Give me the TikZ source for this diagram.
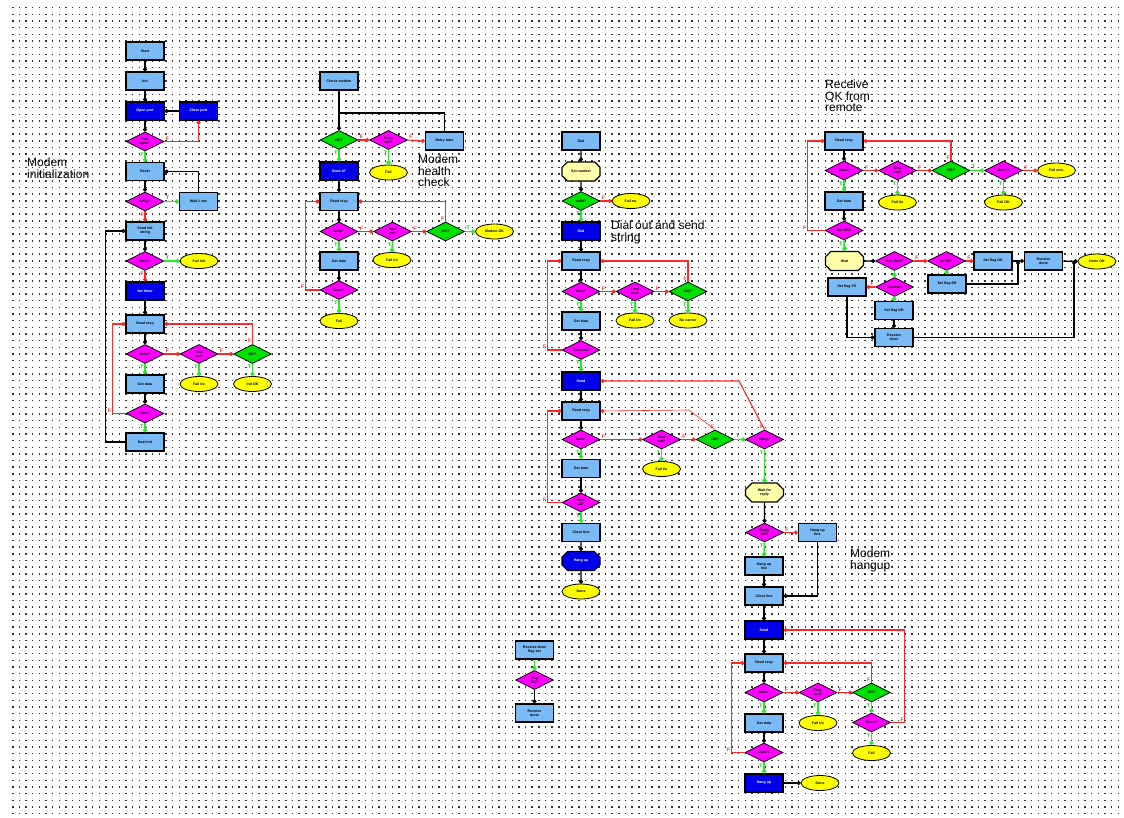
\documentclass[tikz,border=0pt]{standalone}
\usepackage{fontspec}
\setmainfont{Liberation Sans}
\usetikzlibrary{arrows.meta,shapes.geometric,shapes.misc}
\definecolor{lb}{RGB}{122,186,245}
\definecolor{db}{RGB}{0,0,235}
\definecolor{mg}{RGB}{255,0,255}
\definecolor{gr}{RGB}{0,225,0}
\definecolor{gn}{RGB}{40,235,40}
\definecolor{yl}{RGB}{255,255,0}
\definecolor{ly}{RGB}{255,255,170}
\definecolor{rd}{RGB}{255,40,40}
\newcommand\ndtxt{\fontsize{3.6}{4}\selectfont\bfseries}
\newcommand\lbtxt{\fontsize{5}{5}\selectfont\bfseries}
\begin{document}
\begin{tikzpicture}[x=1pt,y=-1pt,
  every node/.style={inner sep=0.5pt, font=\ndtxt, align=center},
  box/.style={rectangle, draw=black, line width=1.2pt, fill=lb, minimum width=38pt, minimum height=18pt},
  dbox/.style={box, fill=db, text=white},
  ybox/.style={chamfered rectangle, chamfered rectangle xsep=3pt, draw=black, line width=1.2pt, fill=ly, minimum width=38pt, minimum height=19pt},
  dybox/.style={ybox, fill=db, text=white},
  dm/.style={diamond, draw=black, line width=0.8pt, fill=mg, minimum width=38pt, minimum height=19pt, inner sep=-1pt, aspect=2},
  dg/.style={dm, fill=gr},
  ell/.style={ellipse, draw=black, line width=0.8pt, fill=yl, minimum width=38pt, minimum height=15pt, inner sep=0pt},
  note/.style={font=\fontsize{12}{11.5}\selectfont, align=left, anchor=north west, inner sep=0pt},
  bl/.style={draw=black, line width=1.1pt, -{Circle[length=4pt]}},
  blk/.style={draw=black, line width=1.1pt},
  rl/.style={draw=rd, line width=1.1pt, -{Circle[length=4pt]}},
  gl/.style={draw=gn, line width=1.6pt, -{Circle[length=4.2pt]}},
  tl/.style={font=\lbtxt, text=gr!80!black, inner sep=0.8pt, pos=0},
  fl/.style={font=\lbtxt, text=rd, inner sep=0.8pt, pos=0},
  dotrow/.style={line width=1.5pt, black!80, dash pattern=on 1.5pt off 5.16pt}]

% page and dotted grid
\fill[white] (0,0) rectangle (1124,817);
\useasboundingbox (0,0) rectangle (1124,817);
\foreach \k in {0,...,121} {\draw[dotrow] (12,{7.7+6.66*\k}) -- (1124,{7.7+6.66*\k});}

% ---------------- Modem initialization ----------------
\node[note] (n1) at (27,158) {Modem\\initialization};
\node[box]  (a1) at (145,51) {Start};
\node[box]  (a2) at (145,81) {Init};
\node[dbox] (a3) at (145,111) {Open port};
\node[dbox] (a3r) at (198.5,111) {Close port};
\node[dm]   (a4) at (145,141.5) {Port\\open?};
\node[box]  (a5) at (145,171.5) {Reset};
\node[dm]   (a6) at (145,201.5) {Busy?};
\node[box]  (a6r) at (198.5,201.5) {Wait 1 sec};
\node[box]  (a7) at (145,231) {Send init\\string};
\node[dm]   (a8) at (145,261) {Error?};
\node[ell]  (a8r) at (199,261) {Fail init};
\node[dbox] (a9) at (145,291) {Set timer};
\node[box]  (a10) at (145,324) {Read resp};
\node[dm]   (a11) at (145,354) {Data?};
\node[dm]   (a12) at (199,354) {Time\\out?};
\node[dg]   (a13) at (252.5,354) {OK?};
\node[ell]  (a12e) at (199,384) {Fail t/o};
\node[ell]  (a13e) at (252.5,384) {Init OK};
\node[box]  (a14) at (145,384) {Get data};
\node[dm]   (a15) at (145,413.5) {Done?};
\node[box]  (a16) at (145,442) {Next init};

\draw[bl] (a1) -- (a2);
\draw[bl] (a2) -- (a3);
\draw[bl] (a3r) -- (a3);
\draw[bl] (a3) -- (a4);
\draw[rl] (a4.east) -| node[fl,anchor=south west]{F} (a3r.south);
\draw[gl] (a4.south) -- node[tl,anchor=north east]{T} (a5.north);
\draw[bl] (a5) -- (a6);
\draw[gl] (a6.east) -- node[tl,anchor=south west]{T} (a6r.west);
\draw[bl] (a6r.north) |- (a5.east);
\draw[rl] (a6.south) -- node[fl,anchor=north east]{F} (a7.north);
\draw[bl] (a7) -- (a8);
\draw[gl] (a8.east) -- node[tl,anchor=south west]{T} (a8r.west);
\draw[rl] (a8.south) -- node[fl,anchor=north east]{F} (a9.north);
\draw[bl] (a9) -- (a10);
\draw[bl] (a10) -- (a11);
\draw[rl] (a11.east) -- node[fl,anchor=south west]{F} (a12.west);
\draw[rl] (a12.east) -- node[fl,anchor=south west]{F} (a13.west);
\draw[rl] (a13.north) |- node[fl,anchor=south east]{F} (a10.east);
\draw[gl] (a11.south) -- node[tl,anchor=north east]{T} (a14.north);
\draw[gl] (a12.south) -- node[tl,anchor=north east]{T} (a12e.north);
\draw[gl] (a13.south) -- node[tl,anchor=north east]{T} (a13e.north);
\draw[bl] (a14) -- (a15);
\draw[rl] (a15.west) -- ++(-13,0) |- node[fl,pos=0,anchor=south east]{F} (a10.west);
\draw[gl] (a15.south) -- node[tl,anchor=north east]{T} (a16.north);
\draw[bl] (a16.west) -- ++(-20,0) |- (a7.west);

% ---------------- Modem health check ----------------
\node[note] (n2) at (418,155) {Modem\\health\\check};
\node[box]  (b1) at (339,81) {Check modem};
\coordinate (bj) at (339,113);
\node[dg]   (b2) at (339,140) {OK?};
\node[dm]   (b3) at (388.5,140) {Retry\\left?};
\node[ell]  (b3e) at (388.5,172.5) {Fail};
\node[box]  (b4) at (444.5,141) {Retry later};
\node[dbox] (b5) at (339,171) {Send AT};
\node[box]  (b6) at (339,201.5) {Read resp};
\node[dm]   (b7) at (339,231.5) {Data?};
\node[dm]   (b8) at (392.5,231.5) {Time\\out?};
\node[dg]   (b9) at (445.5,231.5) {OK?};
\node[ell]  (b9e) at (494.5,231.5) {Modem OK};
\node[ell]  (b8e) at (392,260) {Fail t/o};
\node[box]  (b10) at (339,261) {Get data};
\node[dm]   (b11) at (339,290) {Done?};
\node[ell]  (b11e) at (339,321) {Fail};

\draw[bl] (b1.south) -- (b2.north);
\draw[blk] (b4.north) |- (bj);
\draw[rl] (b2.east) -- node[fl,anchor=south west]{F} (b3.west);
\draw[rl] (b3.east) -- node[fl,anchor=south west]{F} (b4.west);
\draw[gl] (b3.south) -- node[tl,anchor=north east]{T} (b3e.north);
\draw[gl] (b2.south) -- node[tl,anchor=north east]{T} (b5.north);
\draw[bl] (b5) -- (b6);
\draw[bl] (b6) -- (b7);
\draw[rl] (b7.east) -- node[fl,anchor=south west]{F} (b8.west);
\draw[rl] (b8.east) -- node[fl,anchor=south west]{F} (b9.west);
\draw[gl] (b9.east) -- node[tl,anchor=south west]{T} (b9e.west);
\draw[rl] (b9.north) |- node[fl,anchor=south east]{F} (b6.east);
\draw[gl] (b8.south) -- node[tl,anchor=north east]{T} (b8e.north);
\draw[gl] (b7.south) -- node[tl,anchor=north east]{T} (b10.north);
\draw[bl] (b10) -- (b11);
\draw[rl] (b11.west) -- ++(-14,0) |- node[fl,pos=0,anchor=south east]{F} (b6.west);
\draw[gl] (b11.south) -- node[tl,anchor=north east]{T} (b11e.north);

% ---------------- Dial out and send string ----------------
\node[note] (n3) at (611,221) {Dial out and send\\string};
\node[box]  (c1) at (581,141) {Dial};
\node[ybox] (c2) at (581,171.5) {Set number};
\node[dg]   (c3) at (581,201) {Valid?};
\node[ell]  (c3e) at (631,201) {Fail no.};
\node[dbox] (c4) at (581,231) {Dial};
\node[box]  (c5) at (581,261) {Read resp};
\node[dm]   (c6) at (581,291.5) {Data?};
\node[dm]   (c7) at (635,291.5) {Time\\out?};
\node[dg]   (c8) at (688,291.5) {OK?};
\node[ell]  (c7e) at (635,320.5) {Fail t/o};
\node[ell]  (c8e) at (688,320.5) {No carrier};
\node[box]  (c9) at (581,321) {Get data};
\node[dm]   (c10) at (581,350) {Connect?};
\node[dbox] (c11) at (581,381) {Send};
\node[box]  (c12) at (581,411) {Read resp};
\node[dm]   (c13) at (581,439.5) {Data?};
\node[dm]   (c14) at (661.5,439.5) {Time\\out?};
\node[dg]   (c15) at (715,439.5) {OK?};
\node[ell]  (c14e) at (661.5,469) {Fail t/o};
\node[box]  (c16) at (581,468.5) {Get data};
\node[dm]   (c17) at (581,502.5) {Sent\\all?};
\node[box]  (c18) at (581,532.5) {Close line};
\node[dybox] (c19) at (581,561) {Hang up};
\node[ell]  (c20) at (581,591.5) {Done};
\coordinate (cb1) at (689,410);
\coordinate (cb2) at (739,381);

\draw[bl] (c1) -- (c2);
\draw[bl] (c2) -- (c3);
\draw[rl] (c3.east) -- node[fl,anchor=south west]{F} (c3e.west);
\draw[gl] (c3.south) -- node[tl,anchor=north east]{T} (c4.north);
\draw[bl] (c4) -- (c5);
\draw[bl] (c5) -- (c6);
\draw[rl] (c6.east) -- node[fl,anchor=south west]{F} (c7.west);
\draw[rl] (c7.east) -- node[fl,anchor=south west]{F} (c8.west);
\draw[rl] (c8.north) |- node[fl,anchor=south east]{F} (c5.east);
\draw[gl] (c7.south) -- node[tl,anchor=north east]{T} (c7e.north);
\draw[gl] (c8.south) -- node[tl,anchor=north east]{T} (c8e.north);
\draw[gl] (c6.south) -- node[tl,anchor=north east]{T} (c9.north);
\draw[bl] (c9) -- (c10);
\draw[rl] (c10.west) -- ++(-14,0) |- node[fl,pos=0,anchor=south east]{F} (c5.west);
\draw[gl] (c10.south) -- node[tl,anchor=north east]{T} (c11.north);
\draw[bl] (c11) -- (c12);
\draw[bl] (c12) -- (c13);
\draw[rl] (c13.east) -- node[fl,anchor=south west]{F} (c14.west);
\draw[rl] (c14.east) -- node[fl,anchor=south west]{F} (c15.west);
\draw[rl, line width=0.6pt] (c15.north) -- node[fl,anchor=south east]{F} (cb1) -- (c12.east);
\draw[gl] (c14.south) -- node[tl,anchor=north east]{T} (c14e.north);
\draw[gl] (c13.south) -- node[tl,anchor=north east]{T} (c16.north);
\draw[bl] (c16) -- (c17);
\draw[rl] (c17.west) -- ++(-14,0) |- node[fl,pos=0,anchor=south east]{F} (c12.west);
\draw[gl] (c17.south) -- node[tl,anchor=north east]{T} (c18.north);
\draw[bl] (c18) -- (c19);
\draw[bl] (c19) -- (c20);

% ---------------- Modem hangup ----------------
\node[note] (n4) at (850,549) {Modem\\hangup};
\node[dm]   (e1) at (764.5,439.5) {Retry?};
\node[ybox] (e2) at (764.5,492.5) {Wait for\\reply};
\node[dm]   (e3) at (764.5,532.5) {Reply\\OK?};
\node[box]  (e4) at (817.5,532.5) {Hang up\\line};
\node[box]  (e5) at (764,566) {Hang up\\line};
\node[box]  (e6) at (764,596) {Close line};
\node[dbox] (e7) at (764,630) {Send};
\node[box]  (e8) at (764,663) {Read resp};
\node[dm]   (e9) at (764,692.5) {Data?};
\node[dm]   (e10) at (818,692.5) {Time\\out?};
\node[dg]   (e11) at (871.5,692.5) {OK?};
\node[dm]   (e12) at (871.5,722.5) {Retry?};
\node[ell]  (e12e) at (871.5,753) {Fail};
\node[ell]  (e10e) at (818,723) {Fail t/o};
\node[box]  (e13) at (764,723) {Get data};
\node[dm]   (e14) at (764,752.5) {Done?};
\node[dbox] (e15) at (764,783) {Hang up};
\node[ell]  (e15e) at (820,783) {Done};

\draw[gl] (c15.east) -- node[tl,anchor=south west]{T} (e1.west);
\draw[rl] (e1.north) -- node[fl,anchor=south east]{F} (cb2) -- (c11.east);
\draw[gl] (e1.south) -- node[tl,anchor=north east]{T} (e2.north);
\draw[bl] (e2) -- (e3);
\draw[rl] (e3.east) -- node[fl,anchor=south west]{F} (e4.west);
\draw[gl] (e3.south) -- node[tl,anchor=north east]{T} (e5.north);
\draw[bl] (e5) -- (e6);
\draw[bl] (e4.south) |- (e6.east);
\draw[bl] (e6) -- (e7);
\draw[bl] (e7) -- (e8);
\draw[bl] (e8) -- (e9);
\draw[rl] (e9.east) -- node[fl,anchor=south west]{F} (e10.west);
\draw[rl] (e10.east) -- node[fl,anchor=south west]{F} (e11.west);
\draw[rl] (e11.north) |- node[fl,anchor=south east]{F} (e8.east);
\draw[gl] (e11.south) -- node[tl,anchor=north east]{T} (e12.north);
\draw[rl] (e12.east) -- ++(14,0) |- node[fl,pos=0,anchor=south east]{F} (e7.east);
\draw[gl] (e12.south) -- node[tl,anchor=north east]{T} (e12e.north);
\draw[gl] (e10.south) -- node[tl,anchor=north east]{T} (e10e.north);
\draw[gl] (e9.south) -- node[tl,anchor=north east]{T} (e13.north);
\draw[bl] (e13) -- (e14);
\draw[rl] (e14.west) -- ++(-13,0) |- node[fl,pos=0,anchor=south east]{F} (e8.west);
\draw[gl] (e14.south) -- node[tl,anchor=north east]{T} (e15.north);
\draw[bl] (e15) -- (e15e);

% ---------------- Receive OK from remote ----------------
\node[note] (n5) at (825,80) {Receive\\OK from\\remote};
\node[box]  (f1) at (844,141) {Read resp};
\node[dm]   (f2) at (844,170.5) {Data?};
\node[dm]   (f3) at (897.5,170.5) {Time\\out?};
\node[dg]   (f4) at (951,170.5) {OK?};
\node[dm]   (f5) at (1003.5,170.5) {Retry?};
\node[ell]  (f5e) at (1056.5,170.5) {Fail rem.};
\node[ell]  (f3e) at (897.5,202.5) {Fail t/o};
\node[ell]  (f5s) at (1003.5,202.5) {Fail OK};
\node[box]  (f6) at (844,201) {Get data};
\node[dm]   (f7) at (844,230.5) {Got OK?};
\node[ybox] (f8) at (844.5,261) {Wait};
\node[dm]   (f9) at (894.5,261) {Has data?};
\node[dm]   (f10) at (946.5,261) {Is OK?};
\node[box]  (f11) at (993,261) {Set flag OK};
\node[box]  (f12) at (947,284) {Set flag ER};
\coordinate (fj1) at (1018,261);
\node[box]  (f13) at (1043.5,261) {Receive\\done};
\coordinate (fj2) at (1074,261);
\node[ell]  (f13e) at (1097,261.5) {Done OK};
\node[dm]   (f14) at (894.5,287) {Timeout?};
\node[box]  (f15) at (847,287) {Set flag TO};
\node[box]  (f16) at (894,310.5) {Set flag NR};
\node[box]  (f17) at (894,337.5) {Receive\\done};

\draw[bl] (f1) -- (f2);
\draw[rl] (f2.east) -- node[fl,anchor=south west]{F} (f3.west);
\draw[rl] (f3.east) -- node[fl,anchor=south west]{F} (f4.west);
\draw[gl] (f4.east) -- node[tl,anchor=south west]{T} (f5.west);
\draw[rl] (f5.east) -- node[fl,anchor=south west]{F} (f5e.west);
\draw[rl] (f4.north) |- node[fl,anchor=south east]{F} (f1.east);
\draw[gl] (f3.south) -- node[tl,anchor=north east]{T} (f3e.north);
\draw[gl] (f5.south) -- node[tl,anchor=north east]{T} (f5s.north);
\draw[gl] (f2.south) -- node[tl,anchor=north east]{T} (f6.north);
\draw[bl] (f6) -- (f7);
\draw[rl] (f7.west) -- ++(-17,0) |- node[fl,pos=0,anchor=south east]{F} (f1.west);
\draw[gl] (f7.south) -- node[tl,anchor=north east]{T} (f8.north);
\draw[bl] (f8) -- (f9);
\draw[rl] (f9.east) -- node[fl,anchor=south west]{F} (f10.west);
\draw[rl] (f10.east) -- node[fl,anchor=south west]{F} (f11.west);
\draw[gl] (f10.south) -- (f12.north);
\draw[bl] (f12.east) -| (fj1);
\draw[bl] (f11) -- (f13);
\draw[bl] (f13) -- (f13e);
\draw[gl] (f9.south) -- (f14.north);
\draw[rl] (f14.west) -- node[fl,anchor=south east]{F} (f15.east);
\draw[gl] (f14.south) -- (f16.north);
\draw[bl] (f16) -- (f17);
\draw[bl] (f15.south) |- (f17.west);
\draw[bl] (f17.east) -| (fj2);

% ---------------- small fragment ----------------
\node[box]  (g1) at (534.5,650) {Receive done\\flag set};
\node[dm]   (g2) at (534.5,680) {Flag\\OK?};
\node[box]  (g3) at (534.5,713) {Receive\\done};
\draw[gl] (g1) -- (g2);
\draw[bl] (g2) -- (g3);

\end{tikzpicture}
\end{document}
